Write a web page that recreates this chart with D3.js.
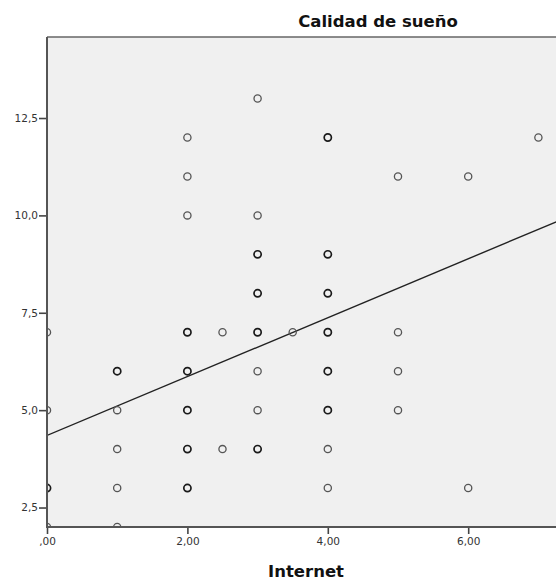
<!DOCTYPE html>
<html>
<head>
<meta charset="utf-8">
<script src="https://cdn.jsdelivr.net/npm/d3@7"></script>
<style>
  body { margin: 0; background: #fff; }
  .tick-label { font-family: "DejaVu Sans", sans-serif; font-size: 10.5px; fill: #333; }
  .title { font-family: "DejaVu Sans", sans-serif; font-size: 16.5px; font-weight: bold; fill: #111; }
</style>
</head>
<body>
<div class="chart"></div>
<script>
// data: Internet (x) vs Calidad de sueño (y)
// counts > 1 are overlapping cases drawn darker
var internet = [0, 0, 0, 0,
  1, 1, 1, 1, 1,
  2, 2, 2, 2, 2, 2, 2, 2,
  2.5, 2.5,
  3, 3, 3, 3, 3, 3, 3, 3,
  3.5,
  4, 4, 4, 4, 4, 4, 4, 4,
  5, 5, 5, 5,
  6, 6,
  7];
var calidad = [7, 5, 3, 2,
  6, 5, 4, 3, 2,
  12, 11, 10, 7, 6, 5, 4, 3,
  7, 4,
  13, 10, 9, 8, 7, 6, 5, 4,
  7,
  12, 9, 8, 7, 6, 5, 4, 3,
  11, 7, 6, 5,
  11, 3,
  12];
var counts = [1, 1, 2, 1,
  2, 1, 1, 1, 1,
  1, 1, 1, 2, 2, 2, 2, 2,
  1, 1,
  1, 1, 2, 2, 2, 1, 1, 2,
  1,
  2, 2, 2, 2, 2, 2, 1, 1,
  1, 1, 1, 1,
  1, 1,
  1];

// fit line (intercept, slope)
var fitIntercept = 4.35;
var fitSlope = 0.756;

var xTicks = [0, 2, 4, 6];
var xTickLabels = [",00", "2,00", "4,00", "6,00"];
var yTicks = [2.5, 5, 7.5, 10, 12.5];
var yTickLabels = ["2,5", "5,0", "7,5", "10,0", "12,5"];

var svgWidth = 556, svgHeight = 581;
var plot = { left: 47, right: 557, top: 37, bottom: 527 };

var svg = d3.select(".chart").append("svg")
  .attr("width", svgWidth)
  .attr("height", svgHeight);

var xScale = d3.scaleLinear()
  .domain([0, 7.265])
  .range([plot.left, plot.right]);

var yScale = d3.scaleLinear()
  .domain([2, 14.58])
  .range([plot.bottom, plot.top]);

// plot background
svg.append("rect")
  .attr("x", plot.left)
  .attr("y", plot.top)
  .attr("width", plot.right - plot.left)
  .attr("height", plot.bottom - plot.top)
  .attr("fill", "#f0f0f0");

svg.append("clipPath").attr("id", "clip")
  .append("rect")
  .attr("x", plot.left)
  .attr("y", plot.top)
  .attr("width", plot.right - plot.left)
  .attr("height", plot.bottom - plot.top);

var inner = svg.append("g").attr("clip-path", "url(#clip)");

// fit line
var lineData = xScale.domain().map(x => [x, fitIntercept + fitSlope * x]);
inner.append("path")
  .datum(lineData)
  .attr("d", d3.line().x(d => xScale(d[0])).y(d => yScale(d[1])))
  .attr("fill", "none")
  .attr("stroke", "#222")
  .attr("stroke-width", 1.4);

// points
var points = internet.map((x, i) => ({ x: x, y: calidad[i], n: counts[i] }));
inner.selectAll("circle")
  .data(points)
  .enter()
  .append("circle")
  .attr("cx", d => xScale(d.x))
  .attr("cy", d => yScale(d.y))
  .attr("r", 3.6)
  .attr("fill", "none")
  .attr("stroke", d => d.n > 1 ? "#1a1a1a" : "#555")
  .attr("stroke-width", d => d.n > 1 ? 1.7 : 1.3);

// axes
var yAxis = d3.axisLeft(yScale)
  .tickValues(yTicks)
  .tickFormat((d, i) => yTickLabels[i])
  .tickSize(8)
  .tickPadding(1);
var xAxis = d3.axisBottom(xScale)
  .tickValues(xTicks)
  .tickFormat((d, i) => xTickLabels[i])
  .tickSize(7)
  .tickPadding(4);

var gy = svg.append("g")
  .attr("transform", `translate(${plot.left}, 0)`)
  .call(yAxis);
var gx = svg.append("g")
  .attr("transform", `translate(0, ${plot.bottom})`)
  .call(xAxis);

[gx, gy].forEach(function (g) {
  g.select(".domain").remove();
  g.selectAll(".tick line").attr("stroke", "#444").attr("stroke-width", 1.6);
  g.selectAll(".tick text").attr("class", "tick-label").attr("fill", null);
});

// frame lines (top, then left and bottom axes)
svg.append("path")
  .attr("d", `M${plot.left},${plot.top}H${plot.right}`)
  .attr("fill", "none")
  .attr("stroke", "#666")
  .attr("stroke-width", 1.6);
svg.append("path")
  .attr("d", `M${plot.left},${plot.top}V${plot.bottom}H${plot.right}`)
  .attr("fill", "none")
  .attr("stroke", "#555")
  .attr("stroke-width", 2);

// titles
svg.append("text")
  .attr("class", "title")
  .attr("x", 378)
  .attr("y", 27)
  .attr("text-anchor", "middle")
  .text("Calidad de sueño");

svg.append("text")
  .attr("class", "title")
  .attr("x", 306)
  .attr("y", 577)
  .attr("text-anchor", "middle")
  .text("Internet");
</script>
</body>
</html>
